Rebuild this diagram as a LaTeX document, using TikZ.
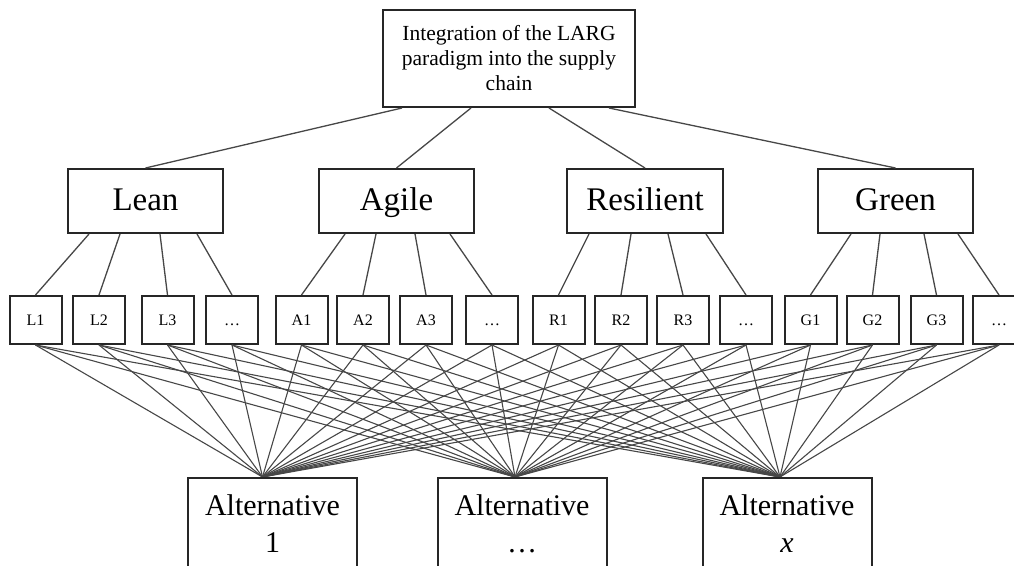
\documentclass[tikz,border=0pt]{standalone}
\usepackage{fontspec}
\setmainfont{Liberation Serif}
\usetikzlibrary{calc}

\tikzset{
  boxline/.style={draw=black!85, line width=2pt, fill=white, inner sep=0pt},
  goalbox/.style={boxline, minimum width=252pt, minimum height=97pt, align=center,
    font=\fontsize{21.5}{25}\selectfont},
  pillarbox/.style={boxline, minimum width=155pt, minimum height=64pt,
    text height=22pt, text depth=4pt, font=\fontsize{33}{38}\selectfont},
  critbox/.style={boxline, minimum width=52pt, minimum height=48pt,
    text height=11pt, text depth=1pt, font=\fontsize{16}{19}\selectfont},
  altbox/.style={boxline, minimum width=169pt, minimum height=92pt, align=center,
    font=\fontsize{30}{37}\selectfont},
  link/.style={draw=black!72, line width=1.3pt},
}

\begin{document}
\begin{tikzpicture}[x=1pt, y=-1pt]
  \useasboundingbox (0,0) rectangle (1014,565);
  \clip (0,0) rectangle (1014,565);

  % goal
  \node[goalbox] (goal) at (509,58.5)
    {Integration of the LARG\\paradigm into the supply\\chain};

  % LARG paradigms
  \node[pillarbox] (lean)  at (145.5,201) {Lean};
  \node[pillarbox] (agile) at (396.5,201) {Agile};
  \node[pillarbox, minimum width=156pt] (resil) at (645,201) {Resilient};
  \node[pillarbox] (green) at (895.5,201) {Green};

  % criteria
  \foreach \n/\x/\t in {l1/35.5/L1, l2/99/L2, l3/167.5/L3, ld/232/\ldots,
                        a1/301.5/A1, a2/363/A2, a3/426/A3, ad/492/\ldots,
                        r1/558.5/R1, r2/621/R2, r3/683/R3, rd/746/\ldots,
                        g1/810.5/G1, g2/872.5/G2, g3/936.5/G3, gd/999/\ldots}
    \node[critbox] (\n) at (\x,320) {\t};

  % alternatives
  \node[altbox] (alt1) at (272.5,524) {Alternative\\1};
  \node[altbox] (alt2) at (522,524)   {Alternative\\\ldots};
  \node[altbox] (alt3) at (787,524)   {Alternative\\\textit{x}};
  \coordinate (in1) at ($(alt1.north)+(-10,0)$);
  \coordinate (in2) at ($(alt2.north)+(-7,0)$);
  \coordinate (in3) at ($(alt3.north)+(-7,0)$);

  % goal -> paradigms
  \foreach \off/\p in {20/lean, 89/agile, 167/resil, 227/green}
    \draw[link] ($(goal.south west)+(\off,0)$) -- (\p.north);

  % paradigms -> criteria
  \foreach \p/\off/\c in {lean/22/l1, lean/53/l2, lean/93/l3, lean/130/ld,
                          agile/27/a1, agile/58/a2, agile/97/a3, agile/132/ad,
                          resil/23/r1, resil/65/r2, resil/102/r3, resil/140/rd,
                          green/34/g1, green/63/g2, green/107/g3, green/141/gd}
    \draw[link] ($(\p.south west)+(\off,0)$) -- (\c.north);

  % criteria -> alternatives
  \foreach \c in {l1,l2,l3,ld,a1,a2,a3,ad,r1,r2,r3,rd,g1,g2,g3,gd}
    \foreach \a in {in1,in2,in3}
      \draw[link, line width=1.1pt] (\c.south) -- (\a);

  % redraw the boxes on top of the connectors
  \node[altbox] at (alt1) {Alternative\\1};
  \node[altbox] at (alt2) {Alternative\\\ldots};
  \node[altbox] at (alt3) {Alternative\\\textit{x}};
\end{tikzpicture}
\end{document}
